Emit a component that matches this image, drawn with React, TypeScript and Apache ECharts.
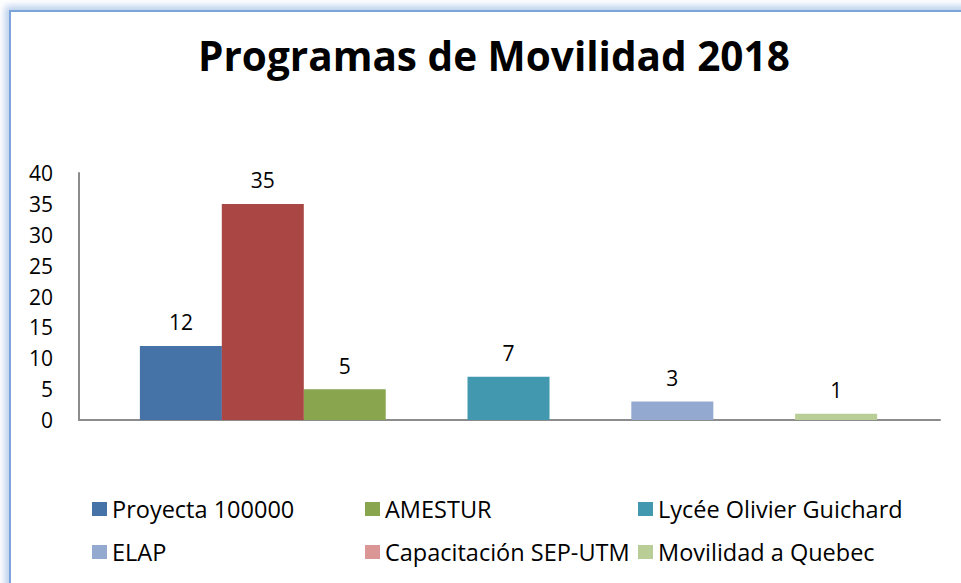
import React, { useEffect, useRef } from "react";
import * as echarts from "echarts";

const titleText = "Programas de Movilidad 2018";
const seriesNames = [
  "Proyecta 100000",
  "AMESTUR",
  "Lycée Olivier Guichard",
  "ELAP",
  "Capacitación SEP-UTM",
  "Movilidad a Quebec",
];
const seriesValues = [12, 5, 7, 3, 35, 1];
const seriesColors = ["#4572A7", "#89A54E", "#4198AF", "#93A9CF", "#D99694", "#B9CD96"];
const barColors = ["#4572A7", "#89A54E", "#4198AF", "#93A9CF", "#AA4643", "#B9CD96"];
const yTicks = [0, 5, 10, 15, 20, 25, 30, 35, 40];

// layout: slot index of each series along the horizontal axis
const slotIndex = [0, 2, 4, 6, 1, 8];

export default function App() {
  const ref = useRef<HTMLDivElement>(null);
  useEffect(() => {
    if (!ref.current) return;
    const chart = echarts.init(ref.current, null, { renderer: "svg" });
    const font = "'Open Sans', Lato, sans-serif";
    const legendBase = {
      left: 87,
      itemGap: 0,
      itemWidth: 15,
      itemHeight: 14,
      icon: "rect",
      formatter: (name: string) => `{n|${name}}`,
      textStyle: {
        fontFamily: font,
        fontSize: 23.5,
        color: "#000",
        rich: {
          n: { width: 253, fontFamily: font, fontSize: 23.5, color: "#000", lineHeight: 28 },
        },
      },
    };
    chart.setOption({
      animation: false,
      title: {
        text: titleText,
        left: 193,
        top: 30,
        textStyle: { fontFamily: font, fontWeight: "bold", fontSize: 40.5, color: "#000" },
      },
      grid: { left: 79, right: 21, top: 173, bottom: 163, containLabel: false },
      xAxis: {
        type: "value",
        min: -1.244,
        max: 9.268,
        axisLine: { show: true, onZero: false, lineStyle: { color: "#8C8C8C", width: 2 } },
        axisTick: { show: false },
        axisLabel: { show: false },
        splitLine: { show: false },
      },
      yAxis: {
        type: "value",
        min: yTicks[0],
        max: yTicks[yTicks.length - 1],
        interval: 5,
        axisLine: { show: true, onZero: false, lineStyle: { color: "#8C8C8C", width: 2 } },
        axisTick: { show: false },
        splitLine: { show: false },
        axisLabel: { fontFamily: font, fontSize: 21, color: "#000", margin: 26 },
      },
      legend: [
        { ...legendBase, data: seriesNames.slice(0, 3), top: 492 },
        { ...legendBase, data: seriesNames.slice(3), top: 535 },
      ],
      series: seriesNames.map((name, i) => ({
        type: "bar",
        name,
        barWidth: 82,
        barGap: "-100%",
        itemStyle: { color: seriesColors[i] },
        label: {
          show: true,
          position: "top",
          distance: 13,
          fontFamily: font,
          fontSize: 21,
          color: "#000",
        },
        data: [
          {
            value: [slotIndex[i], seriesValues[i]],
            itemStyle: { color: barColors[i] },
            label: { formatter: String(seriesValues[i]) },
          },
        ],
      })),
    });
    return () => chart.dispose();
  }, []);
  return (
    <div
      style={{
        position: "fixed",
        left: 0,
        top: 0,
        width: 961,
        height: 583,
        overflow: "hidden",
        background: "#fff",
      }}
    >
      <div
        style={{
          position: "absolute",
          left: 9,
          top: 10,
          width: 1100,
          height: 700,
          border: "2px solid #7DA5DC",
          boxShadow: "0 0 7px 4px rgba(140,175,225,0.6)",
          background: "#fff",
        }}
      />
      <div ref={ref} style={{ position: "absolute", left: 0, top: 0, width: 961, height: 583 }} />
    </div>
  );
}
